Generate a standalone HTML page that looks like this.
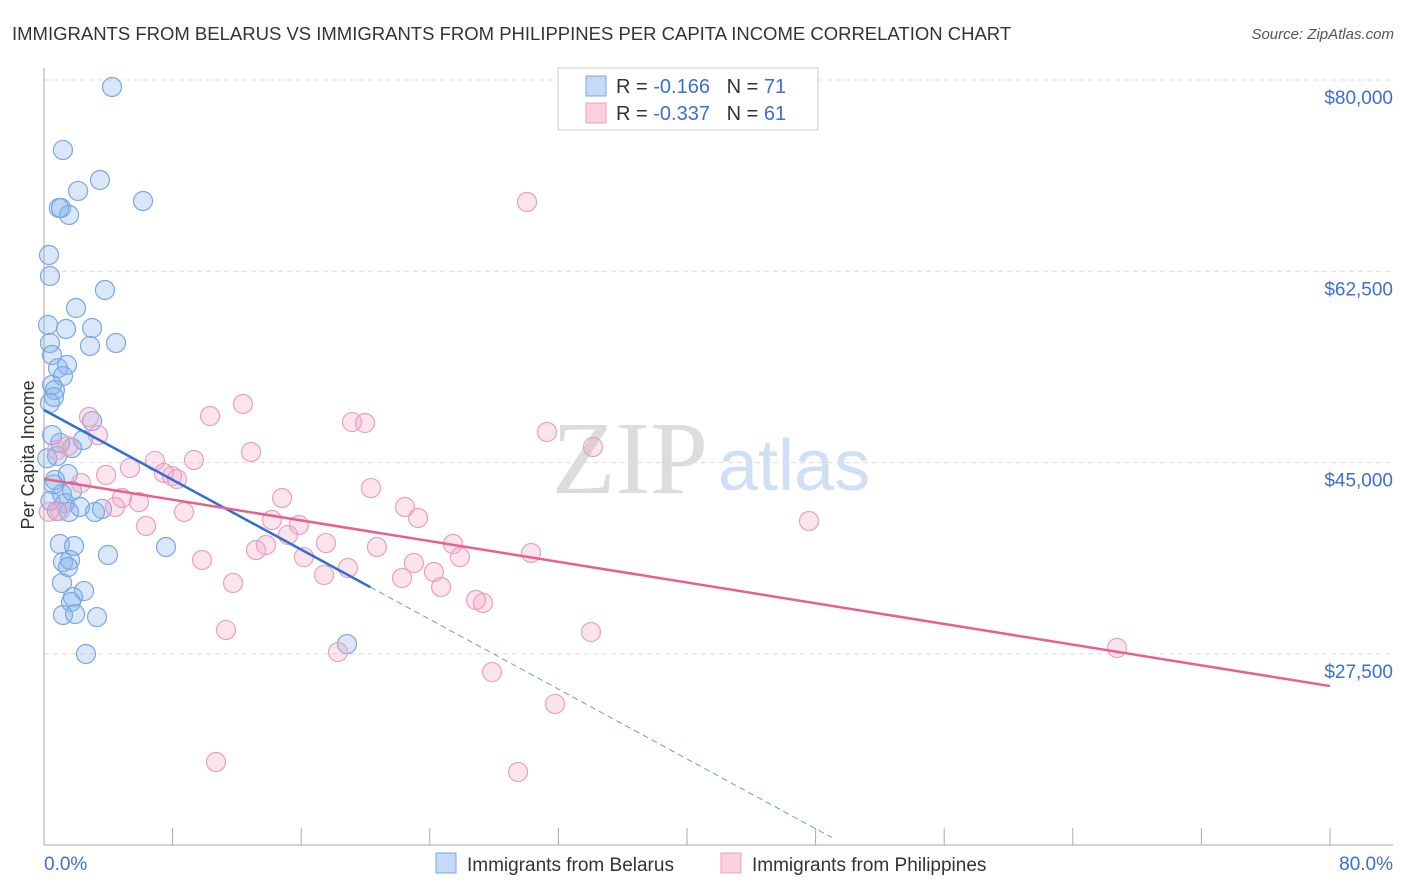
<!DOCTYPE html>
<html><head><meta charset="utf-8"><style>
body{margin:0;background:#fff;font-family:"Liberation Sans",sans-serif;}
svg{display:block}
</style></head><body>
<svg id="chart" width="1406" height="892">
<text x="12" y="40" font-size="18.5" fill="#333">IMMIGRANTS FROM BELARUS VS IMMIGRANTS FROM PHILIPPINES PER CAPITA INCOME CORRELATION CHART</text>
<text x="1394" y="39" font-size="15" fill="#555" font-style="italic" text-anchor="end">Source: ZipAtlas.com</text>
<text x="552" y="493" font-size="104" fill="#dcdcdc" font-family="Liberation Serif">ZIP</text>
<text x="718" y="490" font-size="72" fill="#cfe0f4">atlas</text>
<text transform="translate(34,455) rotate(-90)" font-size="18" fill="#333" text-anchor="middle">Per Capita Income</text>
<g id="grid"></g><g id="pts"></g><g id="lines"></g>
<g>
<rect x="558" y="68" width="260" height="62" fill="#fff" stroke="#ccc"/>
<rect x="586" y="76" width="20" height="20" fill="#c4daf7" stroke="#7aa7e6"/>
<rect x="586" y="103" width="20" height="20" fill="#fad0de" stroke="#eba0bb"/>
<text x="616" y="93" font-size="20" fill="#333" xml:space="preserve">R = <tspan fill="#3a6fd8">-0.166</tspan>   N = <tspan fill="#3a6fd8">71</tspan></text>
<text x="616" y="120" font-size="20" fill="#333" xml:space="preserve">R = <tspan fill="#3a6fd8">-0.337</tspan>   N = <tspan fill="#3a6fd8">61</tspan></text>
</g>
<g>
<rect x="436" y="853" width="20" height="20" fill="#c4daf7" stroke="#7aa7e6"/>
<text x="467" y="871" font-size="19" fill="#333">Immigrants from Belarus</text>
<rect x="721" y="853" width="20" height="20" fill="#fad0de" stroke="#eba0bb"/>
<text x="752" y="871" font-size="19" fill="#333">Immigrants from Philippines</text>
</g>
<text x="44" y="870" font-size="19" fill="#3a6fd8">0.0%</text>
<text x="1393" y="870" font-size="19" fill="#3a6fd8" text-anchor="end">80.0%</text>
</svg>
<script>
const yTicks=[80000,62500,45000,27500];
const yTickLabels=["$80,000","$62,500","$45,000","$27,500"];
const xTicks=[0,8,16,24,32,40,48,56,64,72,80];
const belarusX=[4.23,1.18,3.48,6.16,2.12,0.93,1.06,1.56,0.31,0.37,3.79,1.99,0.25,1.37,2.99,4.48,2.86,0.37,0.5,1.43,0.87,1.18,0.5,0.68,0.62,0.37,2.99,0.5,2.43,1.74,0.81,1.49,0.68,1.12,1.74,1.31,2.24,3.17,3.61,0.81,1.56,7.59,0.99,1.87,3.98,1.18,1.62,1.49,1.12,2.49,1.8,1.68,1.18,1.93,3.3,2.61,18.85,0.2,0.6,0.4,1.0];
const belarusY=[79360,73600,70850,68930,69850,68290,68290,67650,63990,62070,60790,59140,57590,57220,57310,55940,55670,55940,54840,53930,53650,52920,52100,51640,51000,50450,48800,47520,47070,46330,45600,43950,43410,42130,42400,41300,40940,40480,40760,40570,40480,37280,37550,37370,36550,35910,36090,35450,33990,33250,32700,32250,31060,31150,30870,27490,28400,45400,43000,41500,46800];
const philX=[30.05,12.38,10.33,19.16,19.97,31.29,34.15,2.8,3.36,12.88,9.33,6.9,5.35,3.86,7.46,7.96,8.27,2.3,20.34,14.81,4.85,5.91,4.42,22.46,8.71,14.18,23.27,47.59,15.86,6.35,15.18,17.54,13.81,20.71,13.19,25.44,30.3,9.83,16.17,23.01,18.91,24.26,25.87,17.42,22.27,24.7,11.76,26.87,27.31,11.32,34.03,18.29,66.75,27.87,31.79,10.7,29.49,0.81,1.49,0.99,0.3];
const philY=[68840,50360,49260,48710,48620,47800,46430,49170,47520,45970,45240,45150,44510,43870,44050,43770,43500,43130,42670,41760,41760,41390,40940,40940,40480,39750,39930,39660,39290,39200,38380,37640,37460,37280,37000,37550,36730,36090,36360,35820,35360,34990,36360,34720,34440,33620,33990,32430,32160,29690,29500,27670,28040,25840,22920,17610,16700,46150,46520,40570,40500];
const belarusTrend=[49810,-798];const philTrend=[43500,-236.8];
const X=p=>44+p*16.075, Y=v=>80+(80000-v)/91.48;
const NS="http://www.w3.org/2000/svg";
function mk(t,a,p){const e=document.createElementNS(NS,t);for(const k in a)e.setAttribute(k,a[k]);p.appendChild(e);return e;}
const grid=document.getElementById('grid');
yTicks.forEach((v,i)=>{
 const l=mk('line',{x1:44,x2:1393,y1:Y(v),y2:Y(v),stroke:'#ddd','stroke-dasharray':'5,4'},grid);
 
 
 const t=mk('text',{x:1393,y:Y(v)+24,'font-size':19,fill:'#3a6fd8','text-anchor':'end'},grid);t.textContent=yTickLabels[i];
 
 
});
mk('line',{x1:44,x2:44,y1:68,y2:845,stroke:'#aaa'},grid);
mk('line',{x1:44,x2:1393,y1:845,y2:845,stroke:'#aaa'},grid);
xTicks.forEach(p=>{const t=mk('line',{x1:X(p),x2:X(p),y1:828,y2:845,stroke:'#aaa'},grid);
 
 });
const pts=document.getElementById('pts');
belarusX.forEach((x,i)=>{const c=mk('circle',{cx:X(x),cy:Y(belarusY[i]),r:9.5,fill:'rgba(130,175,235,0.3)',stroke:'#7aa7e6','stroke-width':1.2},pts);
 
 });
philX.forEach((x,i)=>{const c=mk('circle',{cx:X(x),cy:Y(philY[i]),r:9.5,fill:'rgba(245,165,195,0.3)',stroke:'#eba0bb','stroke-width':1.2},pts);
 
 });
const lines=document.getElementById('lines');
const bt=p=>belarusTrend[0]+belarusTrend[1]*p, pt=p=>philTrend[0]+philTrend[1]*p;
let l1=mk('line',{x1:X(0),y1:Y(bt(0)),x2:X(20.3),y2:Y(bt(20.3)),stroke:'#2f6fd6','stroke-width':2.5},lines);


let l2=mk('line',{x1:X(20.3),y1:Y(bt(20.3)),x2:X(49),y2:Y(bt(49)),stroke:'#6a9be0','stroke-width':1,'stroke-dasharray':'6,4'},lines);


let l3=mk('line',{x1:X(0),y1:Y(pt(0)),x2:X(80),y2:Y(pt(80)),stroke:'#e8608f','stroke-width':2.5},lines);


</script>
</body></html>
